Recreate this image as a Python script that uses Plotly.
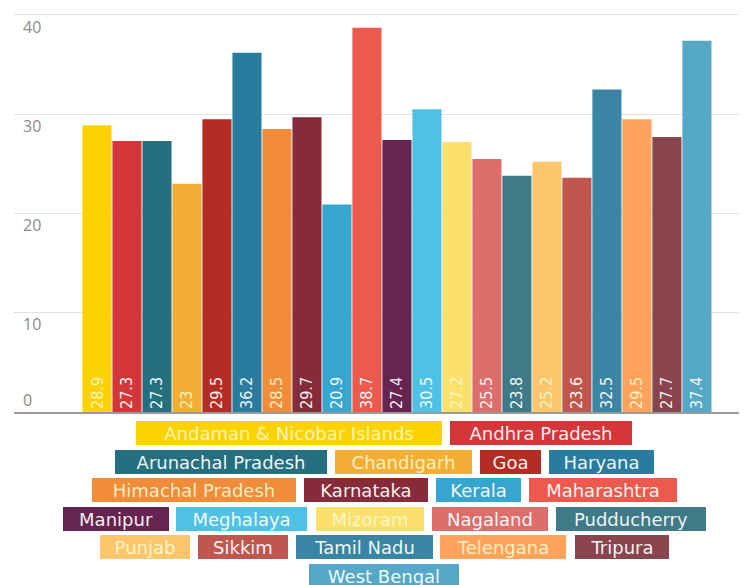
import plotly.graph_objects as go

states = ["Andaman & Nicobar Islands", "Andhra Pradesh", "Arunachal Pradesh", "Chandigarh",
          "Goa", "Haryana", "Himachal Pradesh", "Karnataka", "Kerala", "Maharashtra",
          "Manipur", "Meghalaya", "Mizoram", "Nagaland", "Pudducherry", "Punjab",
          "Sikkim", "Tamil Nadu", "Telengana", "Tripura", "West Bengal"]
values = [28.9, 27.3, 27.3, 23, 29.5, 36.2, 28.5, 29.7, 20.9, 38.7, 27.4,
          30.5, 27.2, 25.5, 23.8, 25.2, 23.6, 32.5, 29.5, 27.7, 37.4]
value_labels = ["28.9", "27.3", "27.3", "23", "29.5", "36.2", "28.5", "29.7", "20.9", "38.7", "27.4",
                "30.5", "27.2", "25.5", "23.8", "25.2", "23.6", "32.5", "29.5", "27.7", "37.4"]
y_ticks = [10, 20, 30, 40]
y_ticks_bottom = [0]

colors = ["#FCD200", "#D4373A", "#246F80", "#F2AE35", "#B52C25", "#2A7C9E", "#F08C3A",
          "#862B39", "#36A6D0", "#EC5A4E", "#652550", "#4EC2E5", "#FCE06C", "#DE6E6C",
          "#3E7A87", "#FDC66C", "#C0574E", "#3A85A3", "#FFA35C", "#8A444E", "#55A9C6"]
light = {0, 3, 6, 12, 15, 18}
text_colors = ["rgba(255,250,210,0.9)" if i in light else "rgba(255,255,255,0.95)" for i in range(len(states))]

# legend layout (style): rows of state indices and box widths in px
legend_rows = [[0, 1], [2, 3, 4, 5], [6, 7, 8, 9], [10, 11, 12, 13, 14], [15, 16, 17, 18, 19], [20]]
box_w = [306, 182, 212, 137, 61, 105, 204, 124, 85, 148, 106, 131, 108, 116, 150,
         90, 90, 137, 126, 94, 150]

OFF = 8  # page body margin
W, H = 747 - OFF, 585 - OFF
ML, MR, MT, MB = 14 - OFF, 0, 10 - OFF, 585 - 412
PW, PH = W - ML - MR, H - MT - MB
YR = [0, 40.5]

fig = go.Figure(go.Bar(
    x=list(range(len(states))), y=values, marker=dict(color=colors, line=dict(width=0)),
    text=value_labels, textposition="inside", insidetextanchor="start", textangle=-90,
    textfont=dict(family="DejaVu Sans Condensed, DejaVu Sans", size=16, color=text_colors),
    hoverinfo="skip", showlegend=False,
))

annotations = []
for r, row in enumerate(legend_rows):
    gap = 8
    total = sum(box_w[i] for i in row) + gap * (len(row) - 1)
    cx = 384 - OFF - total / 2
    cy = 433 - OFF + 28.6 * r
    for i in row:
        bw = box_w[i]
        xc = cx + bw / 2
        annotations.append(dict(
            text=states[i], xref="paper", yref="paper",
            x=(xc - ML) / PW, y=(H - MB - cy) / PH, xanchor="center", yanchor="middle",
            showarrow=False, bgcolor=colors[i], bordercolor=colors[i], borderwidth=1, borderpad=0,
            width=bw - 2, height=22, align="center",
            font=dict(family="DejaVu Sans", size=18, color=text_colors[i]),
        ))
        cx += bw + gap

tickfont = dict(family="Open Sans", size=16, color="#8a8a8a")
fig.update_layout(
    width=W, height=H, margin=dict(l=ML, r=MR, t=MT, b=MB, autoexpand=False),
    plot_bgcolor="white", paper_bgcolor="white", bargap=0.03,
    xaxis=dict(range=[-2.767, 21.67], showticklabels=False, showgrid=False, zeroline=False,
               showline=True, linecolor="#9a9a9a", linewidth=1.5, ticks="", automargin=False),
    yaxis=dict(range=YR, tickvals=y_ticks, showgrid=True, gridcolor="#e2e2e2", gridwidth=1,
               zeroline=False, ticklabelposition="inside", ticklabelshift=12, ticklabelstandoff=6,
               automargin=False, tickfont=tickfont),
    yaxis2=dict(range=YR, tickvals=y_ticks_bottom, overlaying="y", side="left", showgrid=False,
                zeroline=False, ticklabelposition="inside", ticklabelshift=-12, ticklabelstandoff=6,
                automargin=False, tickfont=tickfont, showline=False),
    annotations=annotations,
)
# invisible helper trace so the second axis is drawn
fig.add_trace(go.Scatter(x=[None], y=[None], yaxis="y2", showlegend=False, hoverinfo="skip"))

fig.write_html("out.html")
